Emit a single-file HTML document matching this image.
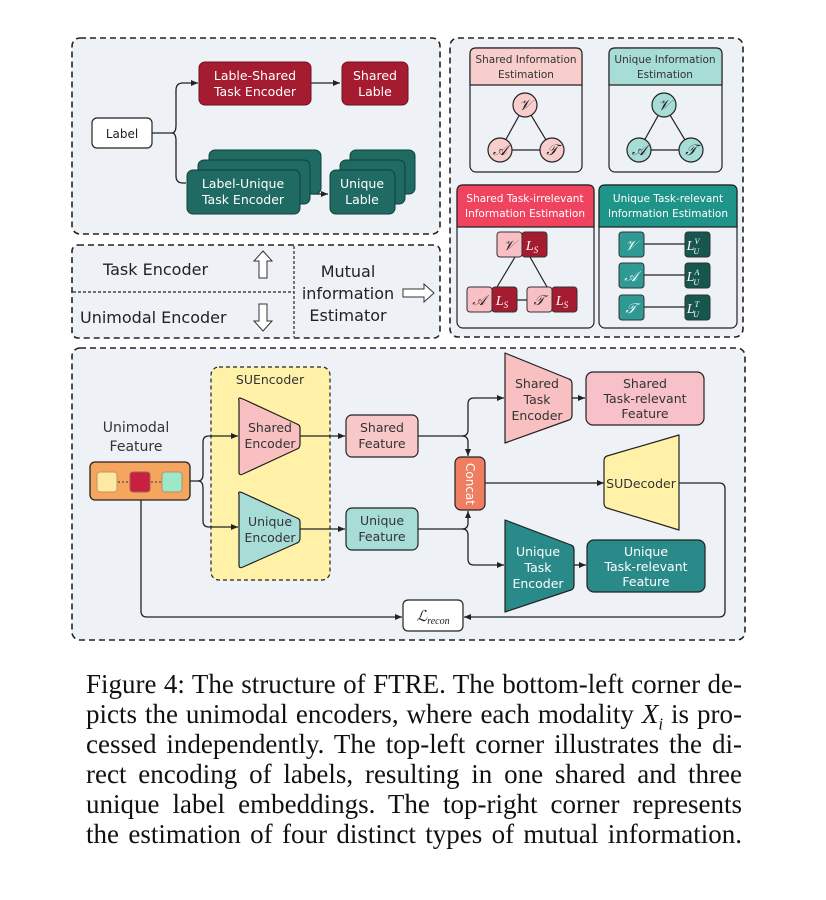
<!DOCTYPE html>
<html><head><meta charset="utf-8"><style>
html,body{margin:0;padding:0;background:#fff;width:826px;height:900px;overflow:hidden}
svg{position:absolute;left:0;top:0}
.cap{position:absolute;left:86px;width:656px;font-family:"Liberation Serif",serif;font-size:27px;line-height:30px;color:#111;text-align:justify;text-align-last:justify;white-space:nowrap}
</style></head><body>
<svg width="826" height="660" viewBox="0 0 826 660" font-family="DejaVu Sans, Liberation Sans, sans-serif">
<defs>
<marker id="ar" markerWidth="8" markerHeight="8" refX="7" refY="4" orient="auto" markerUnits="userSpaceOnUse"><path d="M0,1 L7,4 L0,7 Z" fill="#222"/></marker>
</defs>
<g stroke="#222" stroke-width="1.6" stroke-dasharray="6,4" fill="#eef1f6">
<rect x="72" y="38" width="368" height="196" rx="8"/>
<rect x="72" y="245" width="368" height="93" rx="6"/>
<rect x="450" y="38" width="293" height="299" rx="8"/>
<rect x="72" y="348" width="673" height="292" rx="8"/>
</g>
<g stroke="#222" stroke-width="1.2" stroke-dasharray="3,2">
<line x1="294" y1="246" x2="294" y2="337"/><line x1="73" y1="292" x2="294" y2="292"/>
</g>
<g fill="none" stroke="#222" stroke-width="1.3">
<path d="M152,133 H172 Q176,133 176,125 V90 Q176,83 183,83 H198" marker-end="url(#ar)"/>
<path d="M172,133 Q176,133 176,141 V176 Q176,183 183,183 H186"/>
<path d="M311,83 H340" marker-end="url(#ar)"/>
<path d="M300,178 H320 M300,186 H320 M300,194 H328" marker-end="url(#ar)"/>
</g>
<rect x="92" y="118" width="60" height="30" rx="5" fill="#fff" stroke="#222" stroke-width="1.2"/>
<text x="122" y="138" font-size="12" text-anchor="middle" fill="#222">Label</text>
<rect x="199" y="62" width="112" height="43" rx="6" fill="#a51c30" stroke="#6e1020"/>
<text x="255" y="80" font-size="12.5" text-anchor="middle" fill="#fff">Lable-Shared</text>
<text x="255" y="96" font-size="12.5" text-anchor="middle" fill="#fff">Task Encoder</text>
<rect x="342" y="62" width="66" height="43" rx="6" fill="#a51c30" stroke="#6e1020"/>
<text x="375" y="80" font-size="12.5" text-anchor="middle" fill="#fff">Shared</text>
<text x="375" y="96" font-size="12.5" text-anchor="middle" fill="#fff">Lable</text>
<g fill="#1f6b63" stroke="#0f3f3a">
<rect x="209" y="150" width="112" height="44" rx="6"/><rect x="198" y="160" width="112" height="44" rx="6"/><rect x="187" y="170" width="113" height="44" rx="6"/>
<rect x="350" y="150" width="65" height="44" rx="6"/><rect x="340" y="160" width="65" height="44" rx="6"/><rect x="330" y="170" width="65" height="44" rx="6"/>
</g>
<text x="243" y="188" font-size="12.5" text-anchor="middle" fill="#fff">Label-Unique</text>
<text x="243" y="204" font-size="12.5" text-anchor="middle" fill="#fff">Task Encoder</text>
<text x="362" y="188" font-size="12.5" text-anchor="middle" fill="#fff">Unique</text>
<text x="362" y="204" font-size="12.5" text-anchor="middle" fill="#fff">Lable</text>
<text x="103" y="275" font-size="16" fill="#222">Task Encoder</text>
<text x="80" y="323" font-size="16" fill="#222">Unimodal Encoder</text>
<path d="M263,251 L272,261 L267,261 L267,278 L259,278 L259,261 L254,261 Z" fill="#fff" stroke="#333"/>
<path d="M263,331 L272,321 L267,321 L267,304 L259,304 L259,321 L254,321 Z" fill="#fff" stroke="#333"/>
<text x="348" y="277" font-size="16" text-anchor="middle" fill="#222">Mutual</text>
<text x="348" y="299" font-size="16" text-anchor="middle" fill="#222">information</text>
<text x="348" y="321" font-size="16" text-anchor="middle" fill="#222">Estimator</text>
<path d="M434,293 L424,284 L424,289 L403,289 L403,297 L424,297 L424,302 Z" fill="#fff" stroke="#333"/>
<rect x="470" y="48" width="112" height="124" rx="6" fill="#eef1f6" stroke="#222" stroke-width="1.2"/>
<path d="M476,48 H576 Q582,48 582,54 V85 H470 V54 Q470,48 476,48 Z" fill="#f8cecc" stroke="#222" stroke-width="1.2"/>
<text x="526" y="63" font-size="10.5" text-anchor="middle" fill="#333">Shared Information</text>
<text x="526" y="78" font-size="10.5" text-anchor="middle" fill="#333">Estimation</text>
<rect x="609" y="48" width="113" height="124" rx="6" fill="#eef1f6" stroke="#222" stroke-width="1.2"/>
<path d="M615,48 H716 Q722,48 722,54 V85 H609 V54 Q609,48 615,48 Z" fill="#a8dcd6" stroke="#222" stroke-width="1.2"/>
<text x="665" y="63" font-size="10.5" text-anchor="middle" fill="#333">Unique Information</text>
<text x="665" y="78" font-size="10.5" text-anchor="middle" fill="#333">Estimation</text>
<g stroke="#222" stroke-width="1.2">
<path d="M525,105 L500,150 L552,150 Z" fill="none"/>
<path d="M664,105 L639,150 L691,150 Z" fill="none"/>
<g fill="#f8cecc"><circle cx="525" cy="105" r="12"/><circle cx="500" cy="150" r="12"/><circle cx="552" cy="150" r="12"/></g>
<g fill="#a8dcd6"><circle cx="664" cy="105" r="12"/><circle cx="639" cy="150" r="12"/><circle cx="691" cy="150" r="12"/></g>
</g>
<g font-family="Liberation Serif, serif" font-style="italic" font-size="15" text-anchor="middle" fill="#222">
<text x="525" y="110">𝒱</text><text x="500" y="155">𝒜</text><text x="552" y="155">𝒯</text>
<text x="664" y="110">𝒱</text><text x="639" y="155">𝒜</text><text x="691" y="155">𝒯</text>
</g>
<rect x="457" y="185" width="137" height="143" rx="6" fill="#eef1f6" stroke="#222" stroke-width="1.2"/>
<path d="M463,185 H588 Q594,185 594,191 V227 H457 V191 Q457,185 463,185 Z" fill="#f0435f" stroke="#222" stroke-width="1.2"/>
<text x="525" y="202" font-size="10.5" text-anchor="middle" fill="#fff">Shared Task-irrelevant</text>
<text x="525" y="217" font-size="10.5" text-anchor="middle" fill="#fff">Information Estimation</text>
<rect x="599" y="185" width="138" height="143" rx="6" fill="#eef1f6" stroke="#222" stroke-width="1.2"/>
<path d="M605,185 H731 Q737,185 737,191 V227 H599 V191 Q599,185 605,185 Z" fill="#1f9488" stroke="#222" stroke-width="1.2"/>
<text x="668" y="202" font-size="10.5" text-anchor="middle" fill="#fff">Unique Task-relevant</text>
<text x="668" y="217" font-size="10.5" text-anchor="middle" fill="#fff">Information Estimation</text>
<g stroke="#222" stroke-width="1.2" fill="none">
<path d="M515,257 L497,287 M530,257 L547,287 M517,300 H527"/>
<path d="M644,244 H685 M644,275 H685 M644,307 H685"/>
</g>
<g stroke="#333" stroke-width="1">
<rect x="497" y="232" width="25" height="25" rx="3" fill="#f8bfc4"/><rect x="522" y="232" width="25" height="25" rx="3" fill="#a51c30"/>
<rect x="467" y="287" width="25" height="25" rx="3" fill="#f8bfc4"/><rect x="492" y="287" width="25" height="25" rx="3" fill="#a51c30"/>
<rect x="527" y="287" width="25" height="25" rx="3" fill="#f8bfc4"/><rect x="552" y="287" width="25" height="25" rx="3" fill="#a51c30"/>
<rect x="619" y="232" width="25" height="25" rx="3" fill="#2e9a93"/><rect x="685" y="232" width="25" height="25" rx="3" fill="#17564f"/>
<rect x="619" y="263" width="25" height="25" rx="3" fill="#2e9a93"/><rect x="685" y="263" width="25" height="25" rx="3" fill="#17564f"/>
<rect x="619" y="295" width="25" height="25" rx="3" fill="#2e9a93"/><rect x="685" y="295" width="25" height="25" rx="3" fill="#17564f"/>
</g>
<g font-family="Liberation Serif, serif" font-style="italic" font-size="14" text-anchor="middle">
<text x="509" y="250" fill="#222">𝒱</text><text x="532" y="250" fill="#fff">L<tspan font-size="9" dy="3">S</tspan></text>
<text x="479" y="305" fill="#222">𝒜</text><text x="502" y="305" fill="#fff">L<tspan font-size="9" dy="3">S</tspan></text>
<text x="539" y="305" fill="#222">𝒯</text><text x="562" y="305" fill="#fff">L<tspan font-size="9" dy="3">S</tspan></text>
<text x="631" y="250" fill="#fff">𝒱</text><text x="631" y="281" fill="#fff">𝒜</text><text x="631" y="313" fill="#fff">𝒯</text>
<text x="693" y="250" fill="#fff">L<tspan font-size="8" dy="-6">V</tspan><tspan font-size="8" dx="-6" dy="10">U</tspan></text>
<text x="693" y="281" fill="#fff">L<tspan font-size="8" dy="-6">A</tspan><tspan font-size="8" dx="-6" dy="10">U</tspan></text>
<text x="693" y="313" fill="#fff">L<tspan font-size="8" dy="-6">T</tspan><tspan font-size="8" dx="-6" dy="10">U</tspan></text>
</g>
<rect x="211" y="367" width="119" height="213" rx="8" fill="#fff2a8" stroke="#222" stroke-width="1.2" stroke-dasharray="4,3"/>
<text x="270" y="384" font-size="12.5" text-anchor="middle" fill="#333">SUEncoder</text>
<text x="136" y="432" font-size="14" text-anchor="middle" fill="#333">Unimodal</text>
<text x="136" y="451" font-size="14" text-anchor="middle" fill="#333">Feature</text>
<g fill="none" stroke="#222" stroke-width="1.3">
<path d="M190,481 H198 Q203,481 203,474 V442 Q203,436 209,436 H238" marker-end="url(#ar)"/>
<path d="M198,481 Q203,481 203,488 V521 Q203,527 209,527 H238" marker-end="url(#ar)"/>
<path d="M300,436 H345" marker-end="url(#ar)"/>
<path d="M300,529 H345" marker-end="url(#ar)"/>
<path d="M418,436 H462 Q468,436 468,442 V456" marker-end="url(#ar)"/>
<path d="M462,436 Q468,436 468,430 V404 Q468,398 474,398 H504" marker-end="url(#ar)"/>
<path d="M418,529 H462 Q468,529 468,523 V511" marker-end="url(#ar)"/>
<path d="M462,529 Q468,529 468,535 V559 Q468,565 474,565 H504" marker-end="url(#ar)"/>
<path d="M572,398 H585" marker-end="url(#ar)"/>
<path d="M574,565 H586" marker-end="url(#ar)"/>
<path d="M485,483 H604" marker-end="url(#ar)"/>
<path d="M679,483 H719 Q725,483 725,489 V611 Q725,617 719,617 H464" marker-end="url(#ar)"/>
<path d="M141,500 V611 Q141,617 147,617 H402" marker-end="url(#ar)"/>
</g>
<rect x="90" y="462" width="100" height="38" rx="5" fill="#f5a55e" stroke="#222" stroke-width="1.3"/>
<path d="M118,482 H130 M151,482 H161" stroke="#333" stroke-dasharray="2,2"/>
<rect x="97" y="472" width="20" height="20" rx="3" fill="#fde8a6" stroke="#c9925a"/>
<rect x="130" y="472" width="20" height="20" rx="3" fill="#c8203f" stroke="#a06060"/>
<rect x="162" y="472" width="20" height="20" rx="3" fill="#9ee7c7" stroke="#b09070"/>
<path d="M240,398 Q238,398 239,401 V472 Q239,476 243,474 L297,449 Q300,448 300,444 V428 Q300,425 297,424 L243,399 Z" fill="#f8c0c0" stroke="#222" stroke-width="1.2"/>
<text x="270" y="432" font-size="12.5" text-anchor="middle" fill="#333">Shared</text>
<text x="270" y="448" font-size="12.5" text-anchor="middle" fill="#333">Encoder</text>
<path d="M240,492 Q238,492 239,495 V565 Q239,569 243,567 L297,543 Q300,542 300,538 V522 Q300,519 297,518 L243,493 Z" fill="#a8dcd6" stroke="#222" stroke-width="1.2"/>
<text x="270" y="526" font-size="12.5" text-anchor="middle" fill="#333">Unique</text>
<text x="270" y="542" font-size="12.5" text-anchor="middle" fill="#333">Encoder</text>
<rect x="346" y="415" width="72" height="42" rx="6" fill="#f8c8c8" stroke="#222" stroke-width="1.2"/>
<text x="382" y="432" font-size="12.5" text-anchor="middle" fill="#333">Shared</text>
<text x="382" y="448" font-size="12.5" text-anchor="middle" fill="#333">Feature</text>
<rect x="346" y="508" width="72" height="42" rx="6" fill="#a8dcd6" stroke="#222" stroke-width="1.2"/>
<text x="382" y="525" font-size="12.5" text-anchor="middle" fill="#333">Unique</text>
<text x="382" y="541" font-size="12.5" text-anchor="middle" fill="#333">Feature</text>
<rect x="455" y="457" width="30" height="53" rx="6" fill="#ee7d62" stroke="#222" stroke-width="1.2"/>
<text x="470" y="484" font-size="12" text-anchor="middle" fill="#fff" transform="rotate(90 470 484)" dy="4">Concat</text>
<path d="M505,353 V443 L569,420 Q572,419 572,415 V384 Q572,380 569,379 Z" fill="#f8c0c0" stroke="#222" stroke-width="1.2" stroke-linejoin="round"/>
<text x="537" y="388" font-size="12.5" text-anchor="middle" fill="#333">Shared</text>
<text x="537" y="404" font-size="12.5" text-anchor="middle" fill="#333">Task</text>
<text x="537" y="420" font-size="12.5" text-anchor="middle" fill="#333">Encoder</text>
<rect x="586" y="372" width="118" height="53" rx="7" fill="#f8c0c8" stroke="#222" stroke-width="1.2"/>
<text x="645" y="388" font-size="12.5" text-anchor="middle" fill="#333">Shared</text>
<text x="645" y="403" font-size="12.5" text-anchor="middle" fill="#333">Task-relevant</text>
<text x="645" y="418" font-size="12.5" text-anchor="middle" fill="#333">Feature</text>
<path d="M679,435 V530 L607,508 Q604,507 604,503 V461 Q604,457 607,456 Z" fill="#fff2a8" stroke="#222" stroke-width="1.2" stroke-linejoin="round"/>
<text x="641" y="488" font-size="12.5" text-anchor="middle" fill="#333">SUDecoder</text>
<path d="M505,520 V612 L571,590 Q574,589 574,585 V550 Q574,546 571,545 Z" fill="#2a8a8a" stroke="#222" stroke-width="1.2" stroke-linejoin="round"/>
<text x="538" y="556" font-size="12.5" text-anchor="middle" fill="#fff">Unique</text>
<text x="538" y="572" font-size="12.5" text-anchor="middle" fill="#fff">Task</text>
<text x="538" y="588" font-size="12.5" text-anchor="middle" fill="#fff">Encoder</text>
<rect x="587" y="540" width="118" height="52" rx="7" fill="#2a8a8a" stroke="#222" stroke-width="1.2"/>
<text x="646" y="556" font-size="12.5" text-anchor="middle" fill="#fff">Unique</text>
<text x="646" y="571" font-size="12.5" text-anchor="middle" fill="#fff">Task-relevant</text>
<text x="646" y="586" font-size="12.5" text-anchor="middle" fill="#fff">Feature</text>
<rect x="403" y="600" width="60" height="31" rx="5" fill="#fff" stroke="#222" stroke-width="1.2"/>
<text x="433" y="621" font-family="Liberation Serif, serif" font-style="italic" font-size="15" text-anchor="middle" fill="#222">ℒ<tspan font-size="10" dy="3">recon</tspan></text>
</svg>
<div class="cap" style="top:669px">Figure 4: The structure of FTRE. The bottom-left corner de-</div>
<div class="cap" style="top:699px">picts the unimodal encoders, where each modality <i>X<sub style="font-size:17px;line-height:0">i</sub></i> is pro-</div>
<div class="cap" style="top:729px">cessed independently. The top-left corner illustrates the di-</div>
<div class="cap" style="top:759px">rect encoding of labels, resulting in one shared and three</div>
<div class="cap" style="top:789px">unique label embeddings. The top-right corner represents</div>
<div class="cap" style="top:819px">the estimation of four distinct types of mutual information.</div>
</body></html>
